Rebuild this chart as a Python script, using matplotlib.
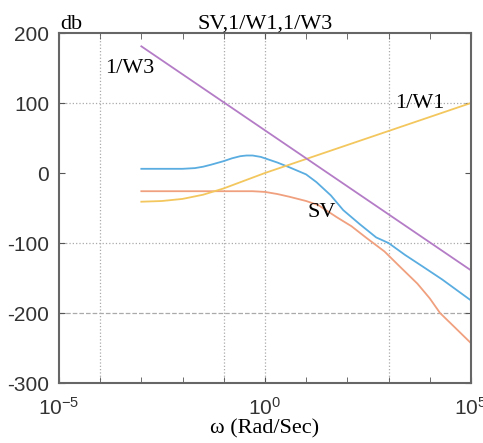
import matplotlib
matplotlib.use('Agg')
import matplotlib.pyplot as plt
import numpy as np

plt.rcParams['axes.unicode_minus'] = False
plt.rcParams['mathtext.fontset'] = 'custom'
plt.rcParams['mathtext.rm'] = 'Liberation Sans'
plt.rcParams['mathtext.it'] = 'Liberation Sans'

# frequencies (rad/s) and magnitudes (dB)
w_w3 = [1e-3, 1e5]
db_w3 = [181, -139]

w_w1 = [1e-3, 10**-2.5, 1e-2, 10**-1.5, 1e-1, 10**-0.5, 1e0, 1e1, 1e2, 1e3, 1e4, 1e5]
db_w1 = [-41, -40, -37, -31, -22, -11, 0, 20, 40, 60, 80, 100]

w_sv = [1e-3, 1e-2, 10**-1.7, 10**-1.5, 10**-1.3, 1e-1, 10**-0.8, 10**-0.6, 10**-0.45, 10**-0.3,
        10**-0.1, 1e0, 10**0.3, 10**0.6, 10**1.0, 10**1.25, 10**1.6, 10**1.9, 10**2.3, 10**2.7,
        1e3, 10**3.4, 10**3.84, 10**4.3, 1e5]
db_sv = [6, 6, 7, 9, 12, 17, 21, 24, 25, 25, 23, 21, 15, 8, -2, -13, -32, -53, -73, -92,
         -100, -117, -134, -152, -182]

w_or = [1e-3, 1e-2, 1e-1, 10**-0.3, 1e0, 10**0.3, 10**0.6, 10**1.0, 10**1.3, 10**1.74, 10**2.1,
        10**2.47, 10**2.9, 10**3.28, 10**3.7, 1e4, 10**4.25, 10**4.6, 1e5]
db_or = [-26, -26, -26, -26, -27, -30, -34, -40, -46, -63, -76, -93, -112, -134, -158, -179,
         -200, -220, -243]

grid_x = [1e-4, 1e-1, 1e0, 1e3]

serif = ['Liberation Serif', 'DejaVu Serif']
sans = ['Liberation Sans', 'DejaVu Sans']

fig = plt.figure(figsize=(4.83, 4.43), dpi=100)
ax = fig.add_axes([0.122, 0.1354, 0.853, 0.7901])

ax.plot(w_sv, db_sv, color='#5aade0', lw=1.3)
ax.plot(w_or, db_or, color='#f0a07e', lw=1.3)
ax.plot(w_w1, db_w1, color='#f3c75e', lw=1.3)
ax.plot(w_w3, db_w3, color='#b47cc6', lw=1.3)

ax.set_xscale('log')
ax.set_xlim(1e-5, 1e5)
ax.set_ylim(-300, 200)

for gx in grid_x:
    ax.axvline(gx, color='#aaaaaa', lw=0.9, ls=':', zorder=0)
ax.axhline(100, color='#aaaaaa', lw=0.9, ls=':', zorder=0)
ax.axhline(-100, color='#aaaaaa', lw=0.9, ls=':', zorder=0)
ax.axhline(-200, color='#aaaaaa', lw=0.9, ls='--', zorder=0)

ax.set_xticks([1e-5, 1e0, 1e5])
ax.set_xticklabels(['$10^{-5}$', '$10^{0}$', '$10^{5}$'])
ax.set_xticks([10.0**k for k in range(-4, 5)], minor=True)
ax.set_yticks([200, 100, 0, -100, -200, -300])
ax.tick_params(which='both', direction='in', top=True, right=True, length=4, color='#555555')
ax.tick_params(which='minor', labelbottom=False)
ax.tick_params(axis='x', which='major', pad=10)
ax.tick_params(axis='y', pad=7)
for lab in ax.get_xticklabels() + ax.get_yticklabels():
    lab.set_family(sans)
    lab.set_fontsize(15)
    lab.set_color('#333333')

for s in ax.spines.values():
    s.set_color('#666666')
    s.set_linewidth(1.5)

ax.set_title('SV,1/W1,1/W3', family=serif, fontsize=16, pad=3)
ax.set_xlabel('ω (Rad/Sec)', family=serif, fontsize=16, labelpad=0)
fig.text(0.124, 0.935, 'db', family=serif, fontsize=16)

ax.text(10**-3.28, 150, '1/W3', family=serif, fontsize=16, ha='center', va='center')
ax.text(10**3.76, 100, '1/W1', family=serif, fontsize=16, ha='center', va='center')
ax.text(10**1.38, -56, 'SV', family=serif, fontsize=16, ha='center', va='center')

fig.savefig('out.png', dpi=100)
